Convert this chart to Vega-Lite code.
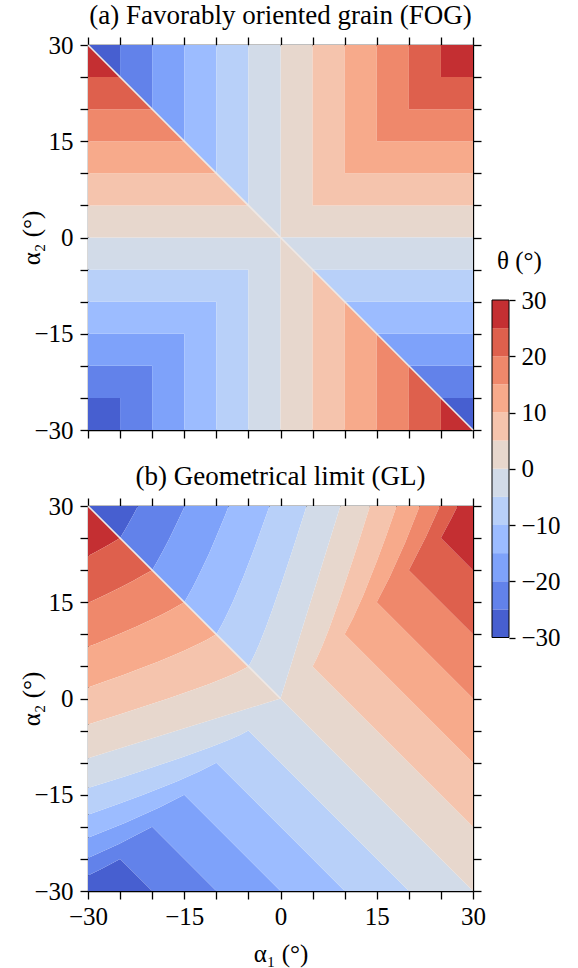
{
"$schema": "https://vega.github.io/schema/vega-lite/v6.json",
"background": "white",
"padding": {"left": 19, "top": 2, "right": 5, "bottom": 5},
"spacing": 76,
"bounds": "flush",
"config": {
  "font": "Liberation Serif",
  "view": {"stroke": null},
  "axis": {"labelFont": "Liberation Serif", "labelFontSize": 25, "labelColor": "black", "titleFont": "Liberation Serif", "titleFontSize": 25, "titleFontWeight": "normal", "titleColor": "black", "domainColor": "black", "domainWidth": 1.3, "tickColor": "black", "tickWidth": 1.3, "grid": false, "labelFlush": false, "labelOverlap": false, "zindex": 1},
  "title": {"font": "Liberation Serif", "fontSize": 27, "fontWeight": "normal", "color": "black", "anchor": "middle", "frame": "group", "offset": 3}
},
"datasets": {
"cb": [{"lo":-30,"hi":-25,"t":-27.5},{"lo":-25,"hi":-20,"t":-22.5},{"lo":-20,"hi":-15,"t":-17.5},{"lo":-15,"hi":-10,"t":-12.5},{"lo":-10,"hi":-5,"t":-7.5},{"lo":-5,"hi":0,"t":-2.5},{"lo":0,"hi":5,"t":2.5},{"lo":5,"hi":10,"t":7.5},{"lo":10,"hi":15,"t":12.5},{"lo":15,"hi":20,"t":17.5},{"lo":20,"hi":25,"t":22.5},{"lo":25,"hi":30,"t":27.5}],
"pa": [
{"g":1,"i":0,"x":0,"y":0,"t":2.5},{"g":1,"i":1,"x":30,"y":0,"t":2.5},{"g":1,"i":2,"x":30,"y":5,"t":2.5},{"g":1,"i":3,"x":5,"y":5,"t":2.5},{"g":1,"i":4,"x":5,"y":30,"t":2.5},{"g":1,"i":5,"x":0,"y":30,"t":2.5},
{"g":2,"i":0,"x":5,"y":5,"t":7.5},{"g":2,"i":1,"x":30,"y":5,"t":7.5},{"g":2,"i":2,"x":30,"y":10,"t":7.5},{"g":2,"i":3,"x":10,"y":10,"t":7.5},{"g":2,"i":4,"x":10,"y":30,"t":7.5},{"g":2,"i":5,"x":5,"y":30,"t":7.5},
{"g":3,"i":0,"x":10,"y":10,"t":12.5},{"g":3,"i":1,"x":30,"y":10,"t":12.5},{"g":3,"i":2,"x":30,"y":15,"t":12.5},{"g":3,"i":3,"x":15,"y":15,"t":12.5},{"g":3,"i":4,"x":15,"y":30,"t":12.5},{"g":3,"i":5,"x":10,"y":30,"t":12.5},
{"g":4,"i":0,"x":15,"y":15,"t":17.5},{"g":4,"i":1,"x":30,"y":15,"t":17.5},{"g":4,"i":2,"x":30,"y":20,"t":17.5},{"g":4,"i":3,"x":20,"y":20,"t":17.5},{"g":4,"i":4,"x":20,"y":30,"t":17.5},{"g":4,"i":5,"x":15,"y":30,"t":17.5},
{"g":5,"i":0,"x":20,"y":20,"t":22.5},{"g":5,"i":1,"x":30,"y":20,"t":22.5},{"g":5,"i":2,"x":30,"y":25,"t":22.5},{"g":5,"i":3,"x":25,"y":25,"t":22.5},{"g":5,"i":4,"x":25,"y":30,"t":22.5},{"g":5,"i":5,"x":20,"y":30,"t":22.5},
{"g":6,"i":0,"x":25,"y":25,"t":27.5},{"g":6,"i":1,"x":30,"y":25,"t":27.5},{"g":6,"i":2,"x":30,"y":30,"t":27.5},{"g":6,"i":3,"x":25,"y":30,"t":27.5},
{"g":7,"i":0,"x":-30,"y":30,"t":-27.5},{"g":7,"i":1,"x":-25,"y":25,"t":-27.5},{"g":7,"i":2,"x":-25,"y":30,"t":-27.5},
{"g":8,"i":0,"x":25,"y":-25,"t":-27.5},{"g":8,"i":1,"x":30,"y":-30,"t":-27.5},{"g":8,"i":2,"x":30,"y":-25,"t":-27.5},
{"g":9,"i":0,"x":-25,"y":30,"t":-22.5},{"g":9,"i":1,"x":-25,"y":25,"t":-22.5},{"g":9,"i":2,"x":-20,"y":20,"t":-22.5},{"g":9,"i":3,"x":-20,"y":30,"t":-22.5},
{"g":10,"i":0,"x":20,"y":-20,"t":-22.5},{"g":10,"i":1,"x":25,"y":-25,"t":-22.5},{"g":10,"i":2,"x":30,"y":-25,"t":-22.5},{"g":10,"i":3,"x":30,"y":-20,"t":-22.5},
{"g":11,"i":0,"x":-20,"y":30,"t":-17.5},{"g":11,"i":1,"x":-20,"y":20,"t":-17.5},{"g":11,"i":2,"x":-15,"y":15,"t":-17.5},{"g":11,"i":3,"x":-15,"y":30,"t":-17.5},
{"g":12,"i":0,"x":15,"y":-15,"t":-17.5},{"g":12,"i":1,"x":20,"y":-20,"t":-17.5},{"g":12,"i":2,"x":30,"y":-20,"t":-17.5},{"g":12,"i":3,"x":30,"y":-15,"t":-17.5},
{"g":13,"i":0,"x":-15,"y":30,"t":-12.5},{"g":13,"i":1,"x":-15,"y":15,"t":-12.5},{"g":13,"i":2,"x":-10,"y":10,"t":-12.5},{"g":13,"i":3,"x":-10,"y":30,"t":-12.5},
{"g":14,"i":0,"x":10,"y":-10,"t":-12.5},{"g":14,"i":1,"x":15,"y":-15,"t":-12.5},{"g":14,"i":2,"x":30,"y":-15,"t":-12.5},{"g":14,"i":3,"x":30,"y":-10,"t":-12.5},
{"g":15,"i":0,"x":-10,"y":30,"t":-7.5},{"g":15,"i":1,"x":-10,"y":10,"t":-7.5},{"g":15,"i":2,"x":-5,"y":5,"t":-7.5},{"g":15,"i":3,"x":-5,"y":30,"t":-7.5},
{"g":16,"i":0,"x":5,"y":-5,"t":-7.5},{"g":16,"i":1,"x":10,"y":-10,"t":-7.5},{"g":16,"i":2,"x":30,"y":-10,"t":-7.5},{"g":16,"i":3,"x":30,"y":-5,"t":-7.5},
{"g":17,"i":0,"x":-5,"y":30,"t":-2.5},{"g":17,"i":1,"x":-5,"y":5,"t":-2.5},{"g":17,"i":2,"x":0,"y":0,"t":-2.5},{"g":17,"i":3,"x":0,"y":30,"t":-2.5},
{"g":18,"i":0,"x":0,"y":0,"t":-2.5},{"g":18,"i":1,"x":5,"y":-5,"t":-2.5},{"g":18,"i":2,"x":30,"y":-5,"t":-2.5},{"g":18,"i":3,"x":30,"y":0,"t":-2.5},
{"g":19,"i":0,"x":-25,"y":-25,"t":-27.5},{"g":19,"i":1,"x":-30,"y":-25,"t":-27.5},{"g":19,"i":2,"x":-30,"y":-30,"t":-27.5},{"g":19,"i":3,"x":-25,"y":-30,"t":-27.5},
{"g":20,"i":0,"x":-20,"y":-20,"t":-22.5},{"g":20,"i":1,"x":-30,"y":-20,"t":-22.5},{"g":20,"i":2,"x":-30,"y":-25,"t":-22.5},{"g":20,"i":3,"x":-25,"y":-25,"t":-22.5},{"g":20,"i":4,"x":-25,"y":-30,"t":-22.5},{"g":20,"i":5,"x":-20,"y":-30,"t":-22.5},
{"g":21,"i":0,"x":-15,"y":-15,"t":-17.5},{"g":21,"i":1,"x":-30,"y":-15,"t":-17.5},{"g":21,"i":2,"x":-30,"y":-20,"t":-17.5},{"g":21,"i":3,"x":-20,"y":-20,"t":-17.5},{"g":21,"i":4,"x":-20,"y":-30,"t":-17.5},{"g":21,"i":5,"x":-15,"y":-30,"t":-17.5},
{"g":22,"i":0,"x":-10,"y":-10,"t":-12.5},{"g":22,"i":1,"x":-30,"y":-10,"t":-12.5},{"g":22,"i":2,"x":-30,"y":-15,"t":-12.5},{"g":22,"i":3,"x":-15,"y":-15,"t":-12.5},{"g":22,"i":4,"x":-15,"y":-30,"t":-12.5},{"g":22,"i":5,"x":-10,"y":-30,"t":-12.5},
{"g":23,"i":0,"x":-5,"y":-5,"t":-7.5},{"g":23,"i":1,"x":-30,"y":-5,"t":-7.5},{"g":23,"i":2,"x":-30,"y":-10,"t":-7.5},{"g":23,"i":3,"x":-10,"y":-10,"t":-7.5},{"g":23,"i":4,"x":-10,"y":-30,"t":-7.5},{"g":23,"i":5,"x":-5,"y":-30,"t":-7.5},
{"g":24,"i":0,"x":0,"y":0,"t":-2.5},{"g":24,"i":1,"x":-30,"y":0,"t":-2.5},{"g":24,"i":2,"x":-30,"y":-5,"t":-2.5},{"g":24,"i":3,"x":-5,"y":-5,"t":-2.5},{"g":24,"i":4,"x":-5,"y":-30,"t":-2.5},{"g":24,"i":5,"x":0,"y":-30,"t":-2.5},
{"g":25,"i":0,"x":0,"y":-30,"t":2.5},{"g":25,"i":1,"x":5,"y":-30,"t":2.5},{"g":25,"i":2,"x":5,"y":-5,"t":2.5},{"g":25,"i":3,"x":0,"y":0,"t":2.5},
{"g":26,"i":0,"x":-30,"y":0,"t":2.5},{"g":26,"i":1,"x":0,"y":0,"t":2.5},{"g":26,"i":2,"x":-5,"y":5,"t":2.5},{"g":26,"i":3,"x":-30,"y":5,"t":2.5},
{"g":27,"i":0,"x":5,"y":-30,"t":7.5},{"g":27,"i":1,"x":10,"y":-30,"t":7.5},{"g":27,"i":2,"x":10,"y":-10,"t":7.5},{"g":27,"i":3,"x":5,"y":-5,"t":7.5},
{"g":28,"i":0,"x":-30,"y":5,"t":7.5},{"g":28,"i":1,"x":-5,"y":5,"t":7.5},{"g":28,"i":2,"x":-10,"y":10,"t":7.5},{"g":28,"i":3,"x":-30,"y":10,"t":7.5},
{"g":29,"i":0,"x":10,"y":-30,"t":12.5},{"g":29,"i":1,"x":15,"y":-30,"t":12.5},{"g":29,"i":2,"x":15,"y":-15,"t":12.5},{"g":29,"i":3,"x":10,"y":-10,"t":12.5},
{"g":30,"i":0,"x":-30,"y":10,"t":12.5},{"g":30,"i":1,"x":-10,"y":10,"t":12.5},{"g":30,"i":2,"x":-15,"y":15,"t":12.5},{"g":30,"i":3,"x":-30,"y":15,"t":12.5},
{"g":31,"i":0,"x":15,"y":-30,"t":17.5},{"g":31,"i":1,"x":20,"y":-30,"t":17.5},{"g":31,"i":2,"x":20,"y":-20,"t":17.5},{"g":31,"i":3,"x":15,"y":-15,"t":17.5},
{"g":32,"i":0,"x":-30,"y":15,"t":17.5},{"g":32,"i":1,"x":-15,"y":15,"t":17.5},{"g":32,"i":2,"x":-20,"y":20,"t":17.5},{"g":32,"i":3,"x":-30,"y":20,"t":17.5},
{"g":33,"i":0,"x":20,"y":-30,"t":22.5},{"g":33,"i":1,"x":25,"y":-30,"t":22.5},{"g":33,"i":2,"x":25,"y":-25,"t":22.5},{"g":33,"i":3,"x":20,"y":-20,"t":22.5},
{"g":34,"i":0,"x":-30,"y":20,"t":22.5},{"g":34,"i":1,"x":-20,"y":20,"t":22.5},{"g":34,"i":2,"x":-25,"y":25,"t":22.5},{"g":34,"i":3,"x":-30,"y":25,"t":22.5},
{"g":35,"i":0,"x":25,"y":-30,"t":27.5},{"g":35,"i":1,"x":30,"y":-30,"t":27.5},{"g":35,"i":2,"x":25,"y":-25,"t":27.5},
{"g":36,"i":0,"x":-30,"y":25,"t":27.5},{"g":36,"i":1,"x":-25,"y":25,"t":27.5},{"g":36,"i":2,"x":-30,"y":30,"t":27.5}
],
"pb": [
{"g":1,"i":0,"x":-20,"y":-30,"t":-27.5},{"g":1,"i":1,"x":-30,"y":-30,"t":-27.5},{"g":1,"i":2,"x":-30,"y":-27.6,"t":-27.5},{"g":1,"i":3,"x":-28,"y":-26.6,"t":-27.5},{"g":1,"i":4,"x":-25,"y":-25,"t":-27.5},
{"g":2,"i":0,"x":-20,"y":-30,"t":-22.5},{"g":2,"i":1,"x":-25,"y":-25,"t":-22.5},{"g":2,"i":2,"x":-28,"y":-26.6,"t":-22.5},{"g":2,"i":3,"x":-30,"y":-27.6,"t":-22.5},{"g":2,"i":4,"x":-30,"y":-24.84,"t":-22.5},{"g":2,"i":5,"x":-25.19,"y":-22.67,"t":-22.5},{"g":2,"i":6,"x":-20,"y":-20,"t":-22.5},{"g":2,"i":7,"x":-10,"y":-30,"t":-22.5},
{"g":3,"i":0,"x":-10,"y":-30,"t":-17.5},{"g":3,"i":1,"x":-20,"y":-20,"t":-17.5},{"g":3,"i":2,"x":-25.19,"y":-22.67,"t":-17.5},{"g":3,"i":3,"x":-30,"y":-24.84,"t":-17.5},{"g":3,"i":4,"x":-30,"y":-21.7,"t":-17.5},{"g":3,"i":5,"x":-24.27,"y":-19.42,"t":-17.5},{"g":3,"i":6,"x":-18.89,"y":-17,"t":-17.5},{"g":3,"i":7,"x":-15,"y":-15,"t":-17.5},{"g":3,"i":8,"x":0,"y":-30,"t":-17.5},
{"g":4,"i":0,"x":0,"y":-30,"t":-12.5},{"g":4,"i":1,"x":-15,"y":-15,"t":-12.5},{"g":4,"i":2,"x":-18.89,"y":-17,"t":-12.5},{"g":4,"i":3,"x":-24.27,"y":-19.42,"t":-12.5},{"g":4,"i":4,"x":-30,"y":-21.7,"t":-12.5},{"g":4,"i":5,"x":-30,"y":-18.1,"t":-12.5},{"g":4,"i":6,"x":-25.3,"y":-16.45,"t":-12.5},{"g":4,"i":7,"x":-21.5,"y":-15.05,"t":-12.5},{"g":4,"i":8,"x":-16.18,"y":-12.94,"t":-12.5},{"g":4,"i":9,"x":-12.59,"y":-11.33,"t":-12.5},{"g":4,"i":10,"x":-10,"y":-10,"t":-12.5},{"g":4,"i":11,"x":10,"y":-30,"t":-12.5},
{"g":5,"i":0,"x":10,"y":-30,"t":-7.5},{"g":5,"i":1,"x":-10,"y":-10,"t":-7.5},{"g":5,"i":2,"x":-12.59,"y":-11.33,"t":-7.5},{"g":5,"i":3,"x":-16.18,"y":-12.94,"t":-7.5},{"g":5,"i":4,"x":-21.5,"y":-15.05,"t":-7.5},{"g":5,"i":5,"x":-25.3,"y":-16.45,"t":-7.5},{"g":5,"i":6,"x":-30,"y":-18.1,"t":-7.5},{"g":5,"i":7,"x":-30,"y":-13.95,"t":-7.5},{"g":5,"i":8,"x":-24.27,"y":-12.14,"t":-7.5},{"g":5,"i":9,"x":-21.78,"y":-11.33,"t":-7.5},{"g":5,"i":10,"x":-18.8,"y":-10.34,"t":-7.5},{"g":5,"i":11,"x":-15.2,"y":-9.12,"t":-7.5},{"g":5,"i":12,"x":-10.75,"y":-7.53,"t":-7.5},{"g":5,"i":13,"x":-8.09,"y":-6.47,"t":-7.5},{"g":5,"i":14,"x":-6.3,"y":-5.67,"t":-7.5},{"g":5,"i":15,"x":-5,"y":-5,"t":-7.5},{"g":5,"i":16,"x":20,"y":-30,"t":-7.5},
{"g":6,"i":0,"x":20,"y":-30,"t":-2.5},{"g":6,"i":1,"x":-5,"y":-5,"t":-2.5},{"g":6,"i":2,"x":-6.3,"y":-5.67,"t":-2.5},{"g":6,"i":3,"x":-8.09,"y":-6.47,"t":-2.5},{"g":6,"i":4,"x":-10.75,"y":-7.53,"t":-2.5},{"g":6,"i":5,"x":-15.2,"y":-9.12,"t":-2.5},{"g":6,"i":6,"x":-18.8,"y":-10.34,"t":-2.5},{"g":6,"i":7,"x":-21.78,"y":-11.33,"t":-2.5},{"g":6,"i":8,"x":-24.27,"y":-12.14,"t":-2.5},{"g":6,"i":9,"x":-30,"y":-13.95,"t":-2.5},{"g":6,"i":10,"x":-30,"y":-9.33,"t":-2.5},{"g":6,"i":11,"x":0,"y":0,"t":-2.5},{"g":6,"i":12,"x":30,"y":-30,"t":-2.5},
{"g":7,"i":0,"x":30,"y":-30,"t":2.5},{"g":7,"i":1,"x":0,"y":0,"t":2.5},{"g":7,"i":2,"x":9.33,"y":30,"t":2.5},{"g":7,"i":3,"x":13.95,"y":30,"t":2.5},{"g":7,"i":4,"x":12.14,"y":24.27,"t":2.5},{"g":7,"i":5,"x":11.33,"y":21.78,"t":2.5},{"g":7,"i":6,"x":10.34,"y":18.8,"t":2.5},{"g":7,"i":7,"x":9.12,"y":15.2,"t":2.5},{"g":7,"i":8,"x":7.53,"y":10.75,"t":2.5},{"g":7,"i":9,"x":6.47,"y":8.09,"t":2.5},{"g":7,"i":10,"x":5.67,"y":6.3,"t":2.5},{"g":7,"i":11,"x":5,"y":5,"t":2.5},{"g":7,"i":12,"x":30,"y":-20,"t":2.5},
{"g":8,"i":0,"x":30,"y":-20,"t":7.5},{"g":8,"i":1,"x":5,"y":5,"t":7.5},{"g":8,"i":2,"x":5.67,"y":6.3,"t":7.5},{"g":8,"i":3,"x":6.47,"y":8.09,"t":7.5},{"g":8,"i":4,"x":7.53,"y":10.75,"t":7.5},{"g":8,"i":5,"x":9.12,"y":15.2,"t":7.5},{"g":8,"i":6,"x":10.34,"y":18.8,"t":7.5},{"g":8,"i":7,"x":11.33,"y":21.78,"t":7.5},{"g":8,"i":8,"x":12.14,"y":24.27,"t":7.5},{"g":8,"i":9,"x":13.95,"y":30,"t":7.5},{"g":8,"i":10,"x":18.1,"y":30,"t":7.5},{"g":8,"i":11,"x":16.45,"y":25.3,"t":7.5},{"g":8,"i":12,"x":15.05,"y":21.5,"t":7.5},{"g":8,"i":13,"x":12.94,"y":16.18,"t":7.5},{"g":8,"i":14,"x":11.33,"y":12.59,"t":7.5},{"g":8,"i":15,"x":10,"y":10,"t":7.5},{"g":8,"i":16,"x":30,"y":-10,"t":7.5},
{"g":9,"i":0,"x":30,"y":-10,"t":12.5},{"g":9,"i":1,"x":10,"y":10,"t":12.5},{"g":9,"i":2,"x":11.33,"y":12.59,"t":12.5},{"g":9,"i":3,"x":12.94,"y":16.18,"t":12.5},{"g":9,"i":4,"x":15.05,"y":21.5,"t":12.5},{"g":9,"i":5,"x":16.45,"y":25.3,"t":12.5},{"g":9,"i":6,"x":18.1,"y":30,"t":12.5},{"g":9,"i":7,"x":21.7,"y":30,"t":12.5},{"g":9,"i":8,"x":19.42,"y":24.27,"t":12.5},{"g":9,"i":9,"x":17,"y":18.89,"t":12.5},{"g":9,"i":10,"x":15,"y":15,"t":12.5},{"g":9,"i":11,"x":30,"y":0,"t":12.5},
{"g":10,"i":0,"x":30,"y":0,"t":17.5},{"g":10,"i":1,"x":15,"y":15,"t":17.5},{"g":10,"i":2,"x":17,"y":18.89,"t":17.5},{"g":10,"i":3,"x":19.42,"y":24.27,"t":17.5},{"g":10,"i":4,"x":21.7,"y":30,"t":17.5},{"g":10,"i":5,"x":24.84,"y":30,"t":17.5},{"g":10,"i":6,"x":22.67,"y":25.19,"t":17.5},{"g":10,"i":7,"x":20,"y":20,"t":17.5},{"g":10,"i":8,"x":30,"y":10,"t":17.5},
{"g":11,"i":0,"x":30,"y":10,"t":22.5},{"g":11,"i":1,"x":20,"y":20,"t":22.5},{"g":11,"i":2,"x":22.67,"y":25.19,"t":22.5},{"g":11,"i":3,"x":24.84,"y":30,"t":22.5},{"g":11,"i":4,"x":27.6,"y":30,"t":22.5},{"g":11,"i":5,"x":26.6,"y":28,"t":22.5},{"g":11,"i":6,"x":25,"y":25,"t":22.5},{"g":11,"i":7,"x":30,"y":20,"t":22.5},
{"g":12,"i":0,"x":30,"y":20,"t":27.5},{"g":12,"i":1,"x":25,"y":25,"t":27.5},{"g":12,"i":2,"x":26.6,"y":28,"t":27.5},{"g":12,"i":3,"x":27.6,"y":30,"t":27.5},{"g":12,"i":4,"x":30,"y":30,"t":27.5},
{"g":13,"i":0,"x":-30,"y":30,"t":27.5},{"g":13,"i":1,"x":-25,"y":25,"t":27.5},{"g":13,"i":2,"x":-26.7,"y":24,"t":27.5},{"g":13,"i":3,"x":-28.67,"y":22.9,"t":27.5},{"g":13,"i":4,"x":-30,"y":22.2,"t":27.5},
{"g":14,"i":0,"x":-20,"y":20,"t":22.5},{"g":14,"i":1,"x":-21.37,"y":19.23,"t":22.5},{"g":14,"i":2,"x":-22.94,"y":18.35,"t":22.5},{"g":14,"i":3,"x":-24.81,"y":17.37,"t":22.5},{"g":14,"i":4,"x":-27.1,"y":16.26,"t":22.5},{"g":14,"i":5,"x":-30,"y":14.9,"t":22.5},{"g":14,"i":6,"x":-30,"y":22.2,"t":22.5},{"g":14,"i":7,"x":-28.67,"y":22.9,"t":22.5},{"g":14,"i":8,"x":-26.7,"y":24,"t":22.5},{"g":14,"i":9,"x":-25,"y":25,"t":22.5},
{"g":15,"i":0,"x":-15,"y":15,"t":17.5},{"g":15,"i":1,"x":-16.03,"y":14.42,"t":17.5},{"g":15,"i":2,"x":-17.2,"y":13.76,"t":17.5},{"g":15,"i":3,"x":-18.61,"y":13.03,"t":17.5},{"g":15,"i":4,"x":-20.33,"y":12.2,"t":17.5},{"g":15,"i":5,"x":-22.42,"y":11.21,"t":17.5},{"g":15,"i":6,"x":-25.13,"y":10.05,"t":17.5},{"g":15,"i":7,"x":-28.63,"y":8.59,"t":17.5},{"g":15,"i":8,"x":-30,"y":8.07,"t":17.5},{"g":15,"i":9,"x":-30,"y":14.9,"t":17.5},{"g":15,"i":10,"x":-27.1,"y":16.26,"t":17.5},{"g":15,"i":11,"x":-24.81,"y":17.37,"t":17.5},{"g":15,"i":12,"x":-22.94,"y":18.35,"t":17.5},{"g":15,"i":13,"x":-21.37,"y":19.23,"t":17.5},{"g":15,"i":14,"x":-20,"y":20,"t":17.5},
{"g":16,"i":0,"x":-10,"y":10,"t":12.5},{"g":16,"i":1,"x":-10.68,"y":9.62,"t":12.5},{"g":16,"i":2,"x":-11.47,"y":9.17,"t":12.5},{"g":16,"i":3,"x":-12.41,"y":8.68,"t":12.5},{"g":16,"i":4,"x":-13.55,"y":8.13,"t":12.5},{"g":16,"i":5,"x":-14.95,"y":7.47,"t":12.5},{"g":16,"i":6,"x":-16.75,"y":6.7,"t":12.5},{"g":16,"i":7,"x":-19.08,"y":5.73,"t":12.5},{"g":16,"i":8,"x":-22.37,"y":4.47,"t":12.5},{"g":16,"i":9,"x":-24.49,"y":3.67,"t":12.5},{"g":16,"i":10,"x":-27.17,"y":2.72,"t":12.5},{"g":16,"i":11,"x":-30,"y":1.7,"t":12.5},{"g":16,"i":12,"x":-30,"y":8.07,"t":12.5},{"g":16,"i":13,"x":-28.63,"y":8.59,"t":12.5},{"g":16,"i":14,"x":-25.13,"y":10.05,"t":12.5},{"g":16,"i":15,"x":-22.42,"y":11.21,"t":12.5},{"g":16,"i":16,"x":-20.33,"y":12.2,"t":12.5},{"g":16,"i":17,"x":-18.61,"y":13.03,"t":12.5},{"g":16,"i":18,"x":-17.2,"y":13.76,"t":12.5},{"g":16,"i":19,"x":-16.03,"y":14.42,"t":12.5},{"g":16,"i":20,"x":-15,"y":15,"t":12.5},
{"g":17,"i":0,"x":-5,"y":5,"t":7.5},{"g":17,"i":1,"x":-5.73,"y":4.59,"t":7.5},{"g":17,"i":2,"x":-6.78,"y":4.07,"t":7.5},{"g":17,"i":3,"x":-8.38,"y":3.35,"t":7.5},{"g":17,"i":4,"x":-11.19,"y":2.24,"t":7.5},{"g":17,"i":5,"x":-13.59,"y":1.36,"t":7.5},{"g":17,"i":6,"x":-17.48,"y":0,"t":7.5},{"g":17,"i":7,"x":-20.58,"y":-1.03,"t":7.5},{"g":17,"i":8,"x":-25.1,"y":-2.51,"t":7.5},{"g":17,"i":9,"x":-30,"y":-4.07,"t":7.5},{"g":17,"i":10,"x":-30,"y":1.7,"t":7.5},{"g":17,"i":11,"x":-27.17,"y":2.72,"t":7.5},{"g":17,"i":12,"x":-24.49,"y":3.67,"t":7.5},{"g":17,"i":13,"x":-22.37,"y":4.47,"t":7.5},{"g":17,"i":14,"x":-19.08,"y":5.73,"t":7.5},{"g":17,"i":15,"x":-16.75,"y":6.7,"t":7.5},{"g":17,"i":16,"x":-14.95,"y":7.47,"t":7.5},{"g":17,"i":17,"x":-13.55,"y":8.13,"t":7.5},{"g":17,"i":18,"x":-12.41,"y":8.68,"t":7.5},{"g":17,"i":19,"x":-11.47,"y":9.17,"t":7.5},{"g":17,"i":20,"x":-10.68,"y":9.62,"t":7.5},{"g":17,"i":21,"x":-10,"y":10,"t":7.5},
{"g":18,"i":0,"x":0,"y":0,"t":2.5},{"g":18,"i":1,"x":-30,"y":-9.33,"t":2.5},{"g":18,"i":2,"x":-30,"y":-4.07,"t":2.5},{"g":18,"i":3,"x":-25.1,"y":-2.51,"t":2.5},{"g":18,"i":4,"x":-20.58,"y":-1.03,"t":2.5},{"g":18,"i":5,"x":-17.48,"y":0,"t":2.5},{"g":18,"i":6,"x":-13.59,"y":1.36,"t":2.5},{"g":18,"i":7,"x":-11.19,"y":2.24,"t":2.5},{"g":18,"i":8,"x":-8.38,"y":3.35,"t":2.5},{"g":18,"i":9,"x":-6.78,"y":4.07,"t":2.5},{"g":18,"i":10,"x":-5.73,"y":4.59,"t":2.5},{"g":18,"i":11,"x":-5,"y":5,"t":2.5},
{"g":19,"i":0,"x":-30,"y":30,"t":-27.5},{"g":19,"i":1,"x":-25,"y":25,"t":-27.5},{"g":19,"i":2,"x":-24,"y":26.7,"t":-27.5},{"g":19,"i":3,"x":-22.9,"y":28.67,"t":-27.5},{"g":19,"i":4,"x":-22.2,"y":30,"t":-27.5},
{"g":20,"i":0,"x":-20,"y":20,"t":-22.5},{"g":20,"i":1,"x":-19.23,"y":21.37,"t":-22.5},{"g":20,"i":2,"x":-18.35,"y":22.94,"t":-22.5},{"g":20,"i":3,"x":-17.37,"y":24.81,"t":-22.5},{"g":20,"i":4,"x":-16.26,"y":27.1,"t":-22.5},{"g":20,"i":5,"x":-14.9,"y":30,"t":-22.5},{"g":20,"i":6,"x":-22.2,"y":30,"t":-22.5},{"g":20,"i":7,"x":-22.9,"y":28.67,"t":-22.5},{"g":20,"i":8,"x":-24,"y":26.7,"t":-22.5},{"g":20,"i":9,"x":-25,"y":25,"t":-22.5},
{"g":21,"i":0,"x":-15,"y":15,"t":-17.5},{"g":21,"i":1,"x":-14.42,"y":16.03,"t":-17.5},{"g":21,"i":2,"x":-13.76,"y":17.2,"t":-17.5},{"g":21,"i":3,"x":-13.03,"y":18.61,"t":-17.5},{"g":21,"i":4,"x":-12.2,"y":20.33,"t":-17.5},{"g":21,"i":5,"x":-11.21,"y":22.42,"t":-17.5},{"g":21,"i":6,"x":-10.05,"y":25.13,"t":-17.5},{"g":21,"i":7,"x":-8.59,"y":28.63,"t":-17.5},{"g":21,"i":8,"x":-8.07,"y":30,"t":-17.5},{"g":21,"i":9,"x":-14.9,"y":30,"t":-17.5},{"g":21,"i":10,"x":-16.26,"y":27.1,"t":-17.5},{"g":21,"i":11,"x":-17.37,"y":24.81,"t":-17.5},{"g":21,"i":12,"x":-18.35,"y":22.94,"t":-17.5},{"g":21,"i":13,"x":-19.23,"y":21.37,"t":-17.5},{"g":21,"i":14,"x":-20,"y":20,"t":-17.5},
{"g":22,"i":0,"x":-10,"y":10,"t":-12.5},{"g":22,"i":1,"x":-9.62,"y":10.68,"t":-12.5},{"g":22,"i":2,"x":-9.17,"y":11.47,"t":-12.5},{"g":22,"i":3,"x":-8.68,"y":12.41,"t":-12.5},{"g":22,"i":4,"x":-8.13,"y":13.55,"t":-12.5},{"g":22,"i":5,"x":-7.47,"y":14.95,"t":-12.5},{"g":22,"i":6,"x":-6.7,"y":16.75,"t":-12.5},{"g":22,"i":7,"x":-5.73,"y":19.08,"t":-12.5},{"g":22,"i":8,"x":-4.47,"y":22.37,"t":-12.5},{"g":22,"i":9,"x":-3.67,"y":24.49,"t":-12.5},{"g":22,"i":10,"x":-2.72,"y":27.17,"t":-12.5},{"g":22,"i":11,"x":-1.7,"y":30,"t":-12.5},{"g":22,"i":12,"x":-8.07,"y":30,"t":-12.5},{"g":22,"i":13,"x":-8.59,"y":28.63,"t":-12.5},{"g":22,"i":14,"x":-10.05,"y":25.13,"t":-12.5},{"g":22,"i":15,"x":-11.21,"y":22.42,"t":-12.5},{"g":22,"i":16,"x":-12.2,"y":20.33,"t":-12.5},{"g":22,"i":17,"x":-13.03,"y":18.61,"t":-12.5},{"g":22,"i":18,"x":-13.76,"y":17.2,"t":-12.5},{"g":22,"i":19,"x":-14.42,"y":16.03,"t":-12.5},{"g":22,"i":20,"x":-15,"y":15,"t":-12.5},
{"g":23,"i":0,"x":-5,"y":5,"t":-7.5},{"g":23,"i":1,"x":-4.59,"y":5.73,"t":-7.5},{"g":23,"i":2,"x":-4.07,"y":6.78,"t":-7.5},{"g":23,"i":3,"x":-3.35,"y":8.38,"t":-7.5},{"g":23,"i":4,"x":-2.24,"y":11.19,"t":-7.5},{"g":23,"i":5,"x":-1.36,"y":13.59,"t":-7.5},{"g":23,"i":6,"x":0,"y":17.48,"t":-7.5},{"g":23,"i":7,"x":1.03,"y":20.58,"t":-7.5},{"g":23,"i":8,"x":2.51,"y":25.1,"t":-7.5},{"g":23,"i":9,"x":4.07,"y":30,"t":-7.5},{"g":23,"i":10,"x":-1.7,"y":30,"t":-7.5},{"g":23,"i":11,"x":-2.72,"y":27.17,"t":-7.5},{"g":23,"i":12,"x":-3.67,"y":24.49,"t":-7.5},{"g":23,"i":13,"x":-4.47,"y":22.37,"t":-7.5},{"g":23,"i":14,"x":-5.73,"y":19.08,"t":-7.5},{"g":23,"i":15,"x":-6.7,"y":16.75,"t":-7.5},{"g":23,"i":16,"x":-7.47,"y":14.95,"t":-7.5},{"g":23,"i":17,"x":-8.13,"y":13.55,"t":-7.5},{"g":23,"i":18,"x":-8.68,"y":12.41,"t":-7.5},{"g":23,"i":19,"x":-9.17,"y":11.47,"t":-7.5},{"g":23,"i":20,"x":-9.62,"y":10.68,"t":-7.5},{"g":23,"i":21,"x":-10,"y":10,"t":-7.5},
{"g":24,"i":0,"x":0,"y":0,"t":-2.5},{"g":24,"i":1,"x":9.33,"y":30,"t":-2.5},{"g":24,"i":2,"x":4.07,"y":30,"t":-2.5},{"g":24,"i":3,"x":2.51,"y":25.1,"t":-2.5},{"g":24,"i":4,"x":1.03,"y":20.58,"t":-2.5},{"g":24,"i":5,"x":0,"y":17.48,"t":-2.5},{"g":24,"i":6,"x":-1.36,"y":13.59,"t":-2.5},{"g":24,"i":7,"x":-2.24,"y":11.19,"t":-2.5},{"g":24,"i":8,"x":-3.35,"y":8.38,"t":-2.5},{"g":24,"i":9,"x":-4.07,"y":6.78,"t":-2.5},{"g":24,"i":10,"x":-4.59,"y":5.73,"t":-2.5},{"g":24,"i":11,"x":-5,"y":5,"t":-2.5}
]
},
"vconcat": [
{
 "width": 385, "height": 385,
 "title": {"text": "(a) Favorably oriented grain (FOG)"},
 "resolve": {"scale": {"x": "independent", "y": "independent"}},
 "layer": [
  {"data": {"name": "pa"},
   "mark": {"type": "line", "filled": true, "strokeWidth": 0},
   "encoding": {
    "x": {"field": "x", "type": "quantitative", "scale": {"domain": [-30, 30], "nice": false, "zero": false},
          "axis": {"orient": "bottom", "values": [-30,-25,-20,-15,-10,-5,0,5,10,15,20,25,30], "labels": false, "title": null, "tickSize": 8,
                   "encode": {"ticks": {"update": {"y": [{"test": "datum.value % 15 === 0", "value": -8}, {"value": -4}], "y2": [{"test": "datum.value % 15 === 0", "value": 8}, {"value": 4}]}}}}},
    "y": {"field": "y", "type": "quantitative", "scale": {"domain": [-30, 30], "nice": false, "zero": false},
          "axis": {"orient": "left", "values": [-30,-25,-20,-15,-10,-5,0,5,10,15,20,25,30], "labelExpr": "datum.value % 15 === 0 ? datum.label : ''", "labelPadding": 7, "tickSize": 8,
                   "title": "α₂ (°)", "titleX": -57, "titleBaseline": "middle",
                   "encode": {"ticks": {"update": {"x": [{"test": "datum.value % 15 === 0", "value": 8}, {"value": 4}], "x2": [{"test": "datum.value % 15 === 0", "value": -8}, {"value": -4}]}}}}},
    "order": {"field": "i", "type": "quantitative"},
    "detail": {"field": "g", "type": "nominal"},
    "color": {"field": "t", "type": "quantitative", "legend": null,
              "scale": {"type": "threshold", "domain": [-25,-20,-15,-10,-5,0,5,10,15,20,25], "range": ["#475fd0","#6282ea","#7ea2fa","#9cbcff","#b8d0f9","#d2dbe8","#e7d7cd","#f5c4ad","#f7aa8b","#ef886b","#de604d","#c42f32"]}}
   }},
  {"data": {"values": [{"x": -30, "y": 30, "x2": 30, "y2": -30}]},
   "mark": {"type": "rule", "color": "#efe8e4", "strokeWidth": 1.6},
   "encoding": {
    "x": {"field": "x", "type": "quantitative", "scale": {"domain": [-30, 30], "nice": false, "zero": false},
          "axis": {"orient": "top", "values": [-30,-25,-20,-15,-10,-5,0,5,10,15,20,25,30], "labels": false, "title": null, "tickSize": 8,
                   "encode": {"ticks": {"update": {"y": [{"test": "datum.value % 15 === 0", "value": 8}, {"value": 4}], "y2": [{"test": "datum.value % 15 === 0", "value": -8}, {"value": -4}]}}}}},
    "y": {"field": "y", "type": "quantitative", "scale": {"domain": [-30, 30], "nice": false, "zero": false},
          "axis": {"orient": "right", "values": [-30,-25,-20,-15,-10,-5,0,5,10,15,20,25,30], "labels": false, "title": null, "tickSize": 8,
                   "encode": {"ticks": {"update": {"x": [{"test": "datum.value % 15 === 0", "value": -8}, {"value": -4}], "x2": [{"test": "datum.value % 15 === 0", "value": 8}, {"value": 4}]}}}}},
    "x2": {"field": "x2"},
    "y2": {"field": "y2"}
   }},
  {"data": {"name": "cb"},
   "mark": {"type": "rect", "clip": false},
   "encoding": {
    "x": {"datum": 0, "type": "quantitative", "scale": {"domain": [0, 1], "range": [404, 421], "nice": false, "zero": false}, "axis": null},
    "x2": {"datum": 1},
    "y": {"field": "lo", "type": "quantitative", "scale": {"domain": [-30, 30], "range": [592.5, 255], "nice": false, "zero": false},
          "axis": {"orient": "right", "offset": 36, "values": [-30,-20,-10,0,10,20,30], "tickSize": 6, "domain": false, "labelPadding": 6,
                   "title": "θ (°)", "titleAngle": 0, "titleX": 10, "titleY": 215.5, "titleAlign": "center", "titleBaseline": "middle"}},
    "y2": {"field": "hi"},
    "color": {"field": "t", "type": "quantitative", "legend": null,
              "scale": {"type": "threshold", "domain": [-25,-20,-15,-10,-5,0,5,10,15,20,25], "range": ["#475fd0","#6282ea","#7ea2fa","#9cbcff","#b8d0f9","#d2dbe8","#e7d7cd","#f5c4ad","#f7aa8b","#ef886b","#de604d","#c42f32"]}}
   }},
  {"data": {"values": [{"f": 1}]},
   "mark": {"type": "rect", "filled": false, "color": "black", "strokeWidth": 1, "clip": false},
   "encoding": {
    "x": {"datum": 0, "type": "quantitative", "scale": {"domain": [0, 1], "range": [404, 421], "nice": false, "zero": false}, "axis": null},
    "x2": {"datum": 1},
    "y": {"datum": -30, "type": "quantitative", "scale": {"domain": [-30, 30], "range": [592.5, 255], "nice": false, "zero": false}, "axis": null},
    "y2": {"datum": 30}
   }}
 ]
},
{
 "width": 385, "height": 385,
 "title": {"text": "(b) Geometrical limit (GL)"},
 "resolve": {"scale": {"x": "independent", "y": "independent"}},
 "layer": [
  {"data": {"name": "pb"},
   "mark": {"type": "line", "filled": true, "strokeWidth": 0},
   "encoding": {
    "x": {"field": "x", "type": "quantitative", "scale": {"domain": [-30, 30], "nice": false, "zero": false},
          "axis": {"orient": "bottom", "values": [-30,-25,-20,-15,-10,-5,0,5,10,15,20,25,30], "labelExpr": "datum.value % 15 === 0 ? datum.label : ''", "labelPadding": 5, "tickSize": 8,
                   "title": "α₁ (°)", "titleY": 62.5, "titleBaseline": "middle",
                   "encode": {"ticks": {"update": {"y": [{"test": "datum.value % 15 === 0", "value": -8}, {"value": -4}], "y2": [{"test": "datum.value % 15 === 0", "value": 8}, {"value": 4}]}}}}},
    "y": {"field": "y", "type": "quantitative", "scale": {"domain": [-30, 30], "nice": false, "zero": false},
          "axis": {"orient": "left", "values": [-30,-25,-20,-15,-10,-5,0,5,10,15,20,25,30], "labelExpr": "datum.value % 15 === 0 ? datum.label : ''", "labelPadding": 7, "tickSize": 8,
                   "title": "α₂ (°)", "titleX": -57, "titleBaseline": "middle",
                   "encode": {"ticks": {"update": {"x": [{"test": "datum.value % 15 === 0", "value": 8}, {"value": 4}], "x2": [{"test": "datum.value % 15 === 0", "value": -8}, {"value": -4}]}}}}},
    "order": {"field": "i", "type": "quantitative"},
    "detail": {"field": "g", "type": "nominal"},
    "color": {"field": "t", "type": "quantitative", "legend": null,
              "scale": {"type": "threshold", "domain": [-25,-20,-15,-10,-5,0,5,10,15,20,25], "range": ["#475fd0","#6282ea","#7ea2fa","#9cbcff","#b8d0f9","#d2dbe8","#e7d7cd","#f5c4ad","#f7aa8b","#ef886b","#de604d","#c42f32"]}}
   }},
  {"data": {"values": [{"x": -30, "y": 30, "x2": 0, "y2": 0}]},
   "mark": {"type": "rule", "color": "#efe8e4", "strokeWidth": 1.6},
   "encoding": {
    "x": {"field": "x", "type": "quantitative", "scale": {"domain": [-30, 30], "nice": false, "zero": false},
          "axis": {"orient": "top", "values": [-30,-25,-20,-15,-10,-5,0,5,10,15,20,25,30], "labels": false, "title": null, "tickSize": 8,
                   "encode": {"ticks": {"update": {"y": [{"test": "datum.value % 15 === 0", "value": 8}, {"value": 4}], "y2": [{"test": "datum.value % 15 === 0", "value": -8}, {"value": -4}]}}}}},
    "y": {"field": "y", "type": "quantitative", "scale": {"domain": [-30, 30], "nice": false, "zero": false},
          "axis": {"orient": "right", "values": [-30,-25,-20,-15,-10,-5,0,5,10,15,20,25,30], "labels": false, "title": null, "tickSize": 8,
                   "encode": {"ticks": {"update": {"x": [{"test": "datum.value % 15 === 0", "value": -8}, {"value": -4}], "x2": [{"test": "datum.value % 15 === 0", "value": 8}, {"value": 4}]}}}}},
    "x2": {"field": "x2"},
    "y2": {"field": "y2"}
   }}
 ]
}
]
}
